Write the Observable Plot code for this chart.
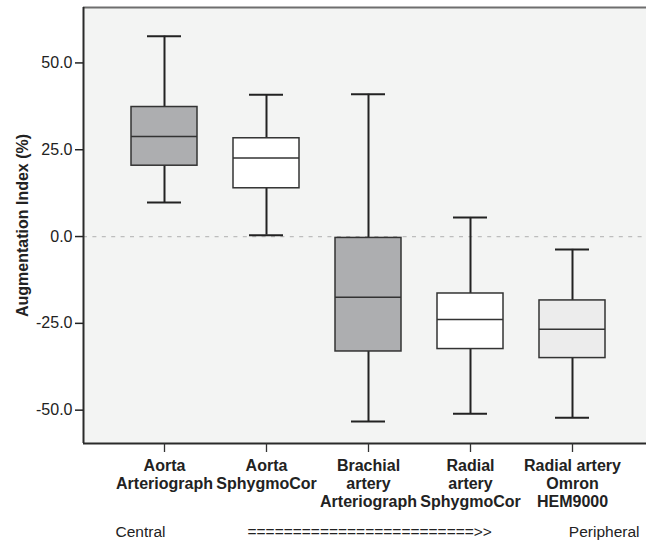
<!DOCTYPE html>
<html>
<head>
<meta charset="utf-8">
<script src="https://cdn.jsdelivr.net/npm/d3@7"></script>
<script src="https://cdn.jsdelivr.net/npm/@observablehq/plot@0.6"></script>
<style>
  html, body { margin: 0; padding: 0; background: #fff; }
  #chart svg { display: block; }
</style>
</head>
<body>
<div id="chart"></div>
<script>
// ---- data ----
const categories = ["Aorta Arteriograph", "Aorta SphygmoCor", "Brachial artery Arteriograph", "Radial artery SphygmoCor", "Radial artery Omron HEM9000"];
const tickLabels = ["Aorta\nArteriograph", "Aorta\nSphygmoCor", "Brachial\nartery\nArteriograph", "Radial\nartery\nSphygmoCor", "Radial artery\nOmron\nHEM9000"];
const whiskerLow = [9.8, 0.4, -53.3, -51.0, -52.2];
const quartile1 = [20.4, 13.9, -33.1, -32.4, -35.0];
const medians = [28.8, 22.6, -17.5, -23.9, -26.7];
const quartile3 = [37.3, 28.3, -0.4, -16.4, -18.4];
const whiskerHigh = [57.7, 40.8, 41.0, 5.5, -3.7];
const yTicks = [-50, -25, 0, 25, 50];
const yLabel = "Augmentation Index (%)";
const bottomNotes = ["Central", "=========================>>", "Peripheral"];

// ---- styles ----
const boxFills = ["#adaeb0", "#ffffff", "#adaeb0", "#ffffff", "#ececec"];

const rows = categories.map((c, i) => ({
  cat: c, label: tickLabels[i], lo: whiskerLow[i], q1: quartile1[i],
  med: medians[i], q3: quartile3[i], hi: whiskerHigh[i], fill: boxFills[i]
}));

const chart = Plot.plot({
  width: 646,
  height: 543,
  marginLeft: 83,
  marginRight: 0,
  marginTop: 7,
  marginBottom: 100,
  style: {fontFamily: "'Liberation Sans', Arial, sans-serif", fontSize: "16px", color: "#222", background: "#fff", overflow: "hidden"},
  x: {domain: categories, range: [83, 652.7], paddingInner: 0.355, paddingOuter: 0.459},
  y: {domain: [-59.6, 65.96]},
  marks: [
    Plot.frame({fill: "#f3f4f3", stroke: null}),
    Plot.ruleY([0], {stroke: "#bdbdbd", strokeWidth: 1.3, strokeDasharray: "4,5.4"}),
    Plot.ruleX(rows, {x: "cat", y1: "lo", y2: "hi", stroke: "#222", strokeWidth: 2}),
    Plot.barY(rows, {x: "cat", y1: "q1", y2: "q3", fill: d => d.fill, stroke: "#333", strokeWidth: 1.5}),
    Plot.tickY(rows, {x: "cat", y: "med", stroke: "#333", strokeWidth: 1.5}),
    Plot.tickY(rows, {x: "cat", y: "hi", stroke: "#222", strokeWidth: 2, insetLeft: 16, insetRight: 16}),
    Plot.tickY(rows, {x: "cat", y: "lo", stroke: "#222", strokeWidth: 2, insetLeft: 16, insetRight: 16}),
    // frame lines
    Plot.ruleY([65.96], {stroke: "#6e6e6e", strokeWidth: 2}),
    Plot.ruleY([-59.6], {stroke: "#2a2a2a", strokeWidth: 2}),
    Plot.ruleX([0], {x: null, dx: 83 - (83 + 646) / 2, stroke: "#2a2a2a", strokeWidth: 2}),
    // axes
    Plot.axisY({ticks: yTicks, tickFormat: d => d.toFixed(1), tickSize: 8, tickPadding: 3, label: null, stroke: "#222", strokeWidth: 1.5, fill: "#222"}),
    Plot.axisX({tickSize: 9, tickFormat: () => "", label: null, stroke: "#333", strokeWidth: 1.3}),
    Plot.text(rows, {x: "cat", text: "label", frameAnchor: "bottom", dy: 14.5, lineAnchor: "top", lineHeight: 1.13, fontWeight: "bold", fill: "#222"}),
    Plot.text([yLabel], {text: d => d, frameAnchor: "left", dx: -61, rotate: -90, textAnchor: "middle", fontWeight: "bold", fill: "#222"}),
    Plot.text([bottomNotes[0]], {text: d => d, frameAnchor: "bottom-left", dx: 32, dy: 89, textAnchor: "start", lineAnchor: "middle", fontSize: 15.5, fill: "#222"}),
    Plot.text([bottomNotes[1]], {text: d => d, frameAnchor: "bottom-left", dx: 164, dy: 89, textAnchor: "start", lineAnchor: "middle", fontSize: 15.5, fill: "#222"}),
    Plot.text([bottomNotes[2]], {text: d => d, frameAnchor: "bottom-right", dx: -7, dy: 89, textAnchor: "end", lineAnchor: "middle", fontSize: 15.5, fill: "#222"})
  ]
});
document.getElementById("chart").appendChild(chart);
</script>
</body>
</html>
